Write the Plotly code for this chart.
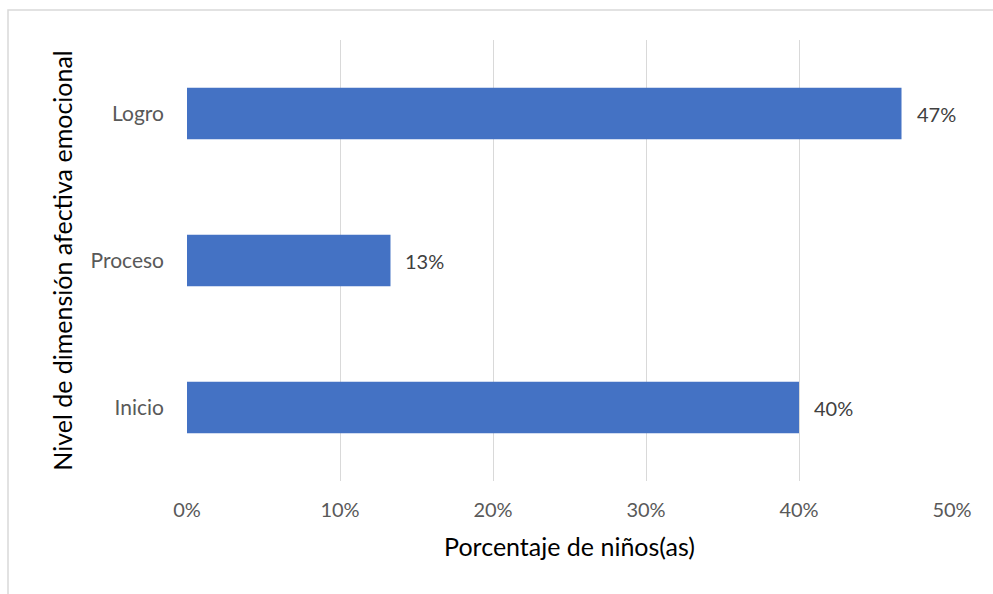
import plotly.graph_objects as go

categorias = ["Inicio", "Proceso", "Logro"]
porcentajes = [0.40, 0.133, 0.467]
etiquetas = ["40%", "13%", "47%"]
ticks_x = [0, 0.1, 0.2, 0.3, 0.4, 0.5]

fig = go.Figure()
fig.add_trace(go.Bar(
    y=categorias, x=porcentajes, orientation="h",
    marker=dict(color="#4472C4", line=dict(width=0)),
    width=0.35, hoverinfo="x+y",
))

for cat, val, lab in zip(categorias, porcentajes, etiquetas):
    fig.add_annotation(x=val, y=cat, text=lab, showarrow=False,
                       xanchor="left", xshift=13,
                       font=dict(size=20, color="#404040"))

# light frame around the chart area, as in the source
fig.add_shape(type="rect", xref="paper", yref="paper",
              x0=(8 - 187) / 765, x1=(1010 - 187) / 765,
              y0=(481 - 620) / 441, y1=(481 - 10) / 441,
              line=dict(color="#D9D9D9", width=1.5), layer="below")

fig.update_layout(
    width=993, height=594,
    margin=dict(l=187, r=41, t=40, b=113),
    paper_bgcolor="white", plot_bgcolor="white",
    font=dict(family="Lato, Noto Sans, sans-serif", size=20, color="#404040"),
    showlegend=False,
    xaxis=dict(
        range=[0, 0.5], tickvals=ticks_x, tickformat=".0%",
        showgrid=True, gridcolor="#D9D9D9", gridwidth=1.3,
        zeroline=False, showline=False, ticks="",
        ticklabelstandoff=15,
        tickfont=dict(size=20, color="#595959"),
        title=dict(text="Porcentaje de niños(as)", standoff=18,
                   font=dict(size=25, color="#000000")),
    ),
    yaxis=dict(
        showgrid=False, zeroline=False, showline=False, ticks="",
        ticklabelstandoff=22,
        tickfont=dict(size=21, color="#595959"),
        title=dict(text="Nivel de dimensión afectiva emocional", standoff=10,
                   font=dict(size=25, color="#000000")),
    ),
)

fig.write_html("out.html", config={"displayModeBar": False},
               post_script="document.body.style.margin='0';")
